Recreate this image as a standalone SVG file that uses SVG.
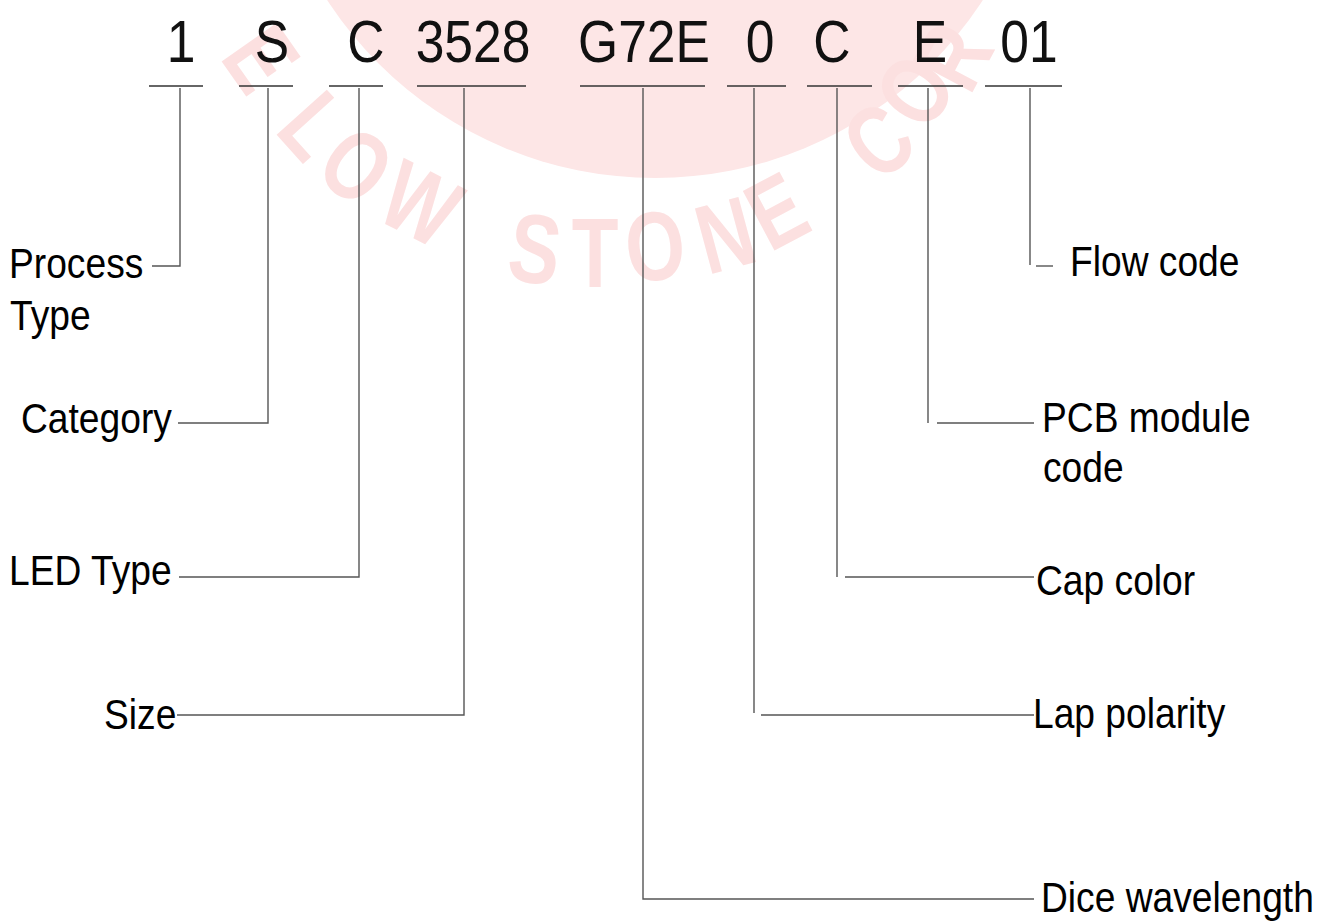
<svg xmlns="http://www.w3.org/2000/svg" width="1331" height="922" viewBox="0 0 1331 922">
  <style>
    .code { font-family: "Liberation Sans", Arial, sans-serif; font-size: 60px; fill: #111; text-anchor: middle; }
    .lbl { font-family: "Liberation Sans", Arial, sans-serif; font-size: 43px; fill: #000; }
    .wm { font-family: "Liberation Sans", Arial, sans-serif; font-size: 98px; font-weight: bold; fill: #fce0e0; text-anchor: middle; }
    .ul { stroke: #333; stroke-width: 1.5; fill: none; }
    .cn { stroke: #555; stroke-width: 1.4; fill: none; }
  </style>
  <rect width="1331" height="922" fill="#ffffff"/>

  <g id="watermark">
    <circle cx="655" cy="-213" r="391" fill="#fde6e6"/>
    <text class="wm" transform="translate(262,58) rotate(55) scale(0.78,1)" y="35">E</text>
    <text class="wm" transform="translate(315,125) rotate(48) scale(0.78,1)" y="35">L</text>
    <text class="wm" transform="translate(357,165) rotate(38) scale(0.78,1)" y="35">O</text>
    <text class="wm" transform="translate(421,203) rotate(27) scale(0.78,1)" y="35">W</text>
    <text class="wm" transform="translate(535,248) rotate(8) scale(0.78,1)" y="35">S</text>
    <text class="wm" transform="translate(595,252) rotate(0) scale(0.78,1)" y="35">T</text>
    <text class="wm" transform="translate(655,245) rotate(-6) scale(0.78,1)" y="35">O</text>
    <text class="wm" transform="translate(725,234) rotate(-15) scale(0.78,1)" y="35">N</text>
    <text class="wm" transform="translate(776,210) rotate(-28) scale(0.78,1)" y="35">E</text>
    <text class="wm" transform="translate(878,140) rotate(-40) scale(0.78,1)" y="35">C</text>
    <text class="wm" transform="translate(914,90) rotate(-55) scale(0.78,1)" y="35">O</text>
    <text class="wm" transform="translate(952,56) rotate(-62) scale(0.78,1)" y="35">R</text>
  </g>

  <g id="connectors">
    <line class="ul" x1="149" y1="86" x2="203" y2="86"/>
    <line class="ul" x1="239" y1="86" x2="293" y2="86"/>
    <line class="ul" x1="329" y1="86" x2="383" y2="86"/>
    <line class="ul" x1="417" y1="86" x2="526" y2="86"/>
    <line class="ul" x1="580" y1="86" x2="705" y2="86"/>
    <line class="ul" x1="727" y1="86" x2="786" y2="86"/>
    <line class="ul" x1="807" y1="86" x2="872" y2="86"/>
    <line class="ul" x1="898" y1="86" x2="963" y2="86"/>
    <line class="ul" x1="985" y1="86" x2="1062" y2="86"/>

    <polyline class="cn" points="180,88 180,266 152,266"/>
    <polyline class="cn" points="268,88 268,423 178,423"/>
    <polyline class="cn" points="359,88 359,577 179,577"/>
    <polyline class="cn" points="464,88 464,715 177,715"/>
    <polyline class="cn" points="643,88 643,899 1034,899"/>

    <line class="cn" x1="754" y1="88" x2="754" y2="713"/>
    <line class="cn" x1="761" y1="715" x2="1034" y2="715"/>
    <line class="cn" x1="837" y1="88" x2="837" y2="577"/>
    <line class="cn" x1="845" y1="577" x2="1034" y2="577"/>
    <line class="cn" x1="928" y1="88" x2="928" y2="423"/>
    <line class="cn" x1="937" y1="423" x2="1034" y2="423"/>
    <line class="cn" x1="1030" y1="88" x2="1030" y2="265"/>
    <line class="cn" x1="1036" y1="266" x2="1053" y2="266"/>
  </g>

  <g id="code-1"><text class="code" transform="translate(181,62) scale(0.86,1)">1</text></g>
  <g id="code-S"><text class="code" transform="translate(272,62) scale(0.86,1)">S</text></g>
  <g id="code-C1"><text class="code" transform="translate(366,62) scale(0.86,1)">C</text></g>
  <g id="code-3528"><text class="code" transform="translate(473,62) scale(0.86,1)">3528</text></g>
  <g id="code-G72E"><text class="code" transform="translate(644,62) scale(0.86,1)">G72E</text></g>
  <g id="code-0"><text class="code" transform="translate(760,62) scale(0.86,1)">0</text></g>
  <g id="code-C2"><text class="code" transform="translate(832,62) scale(0.86,1)">C</text></g>
  <g id="code-E"><text class="code" transform="translate(930,62) scale(0.86,1)">E</text></g>
  <g id="code-01"><text class="code" transform="translate(1029,62) scale(0.86,1)">01</text></g>

  <g id="label-process">
    <text class="lbl" transform="translate(9,278) scale(0.865,1)">Process</text>
    <text class="lbl" transform="translate(10,330) scale(0.865,1)">Type</text>
  </g>
  <g id="label-category"><text class="lbl" transform="translate(21,433) scale(0.865,1)">Category</text></g>
  <g id="label-led-type"><text class="lbl" transform="translate(9,585) scale(0.865,1)">LED Type</text></g>
  <g id="label-size"><text class="lbl" transform="translate(104,729) scale(0.865,1)">Size</text></g>
  <g id="label-flow-code"><text class="lbl" transform="translate(1070,276) scale(0.865,1)">Flow code</text></g>
  <g id="label-pcb">
    <text class="lbl" transform="translate(1042,432) scale(0.865,1)">PCB module</text>
    <text class="lbl" transform="translate(1043,482) scale(0.865,1)">code</text>
  </g>
  <g id="label-cap-color"><text class="lbl" transform="translate(1036,595) scale(0.865,1)">Cap color</text></g>
  <g id="label-lap-polarity"><text class="lbl" transform="translate(1033,728) scale(0.865,1)">Lap polarity</text></g>
  <g id="label-dice"><text class="lbl" transform="translate(1041,912) scale(0.865,1)">Dice wavelength</text></g>
</svg>
